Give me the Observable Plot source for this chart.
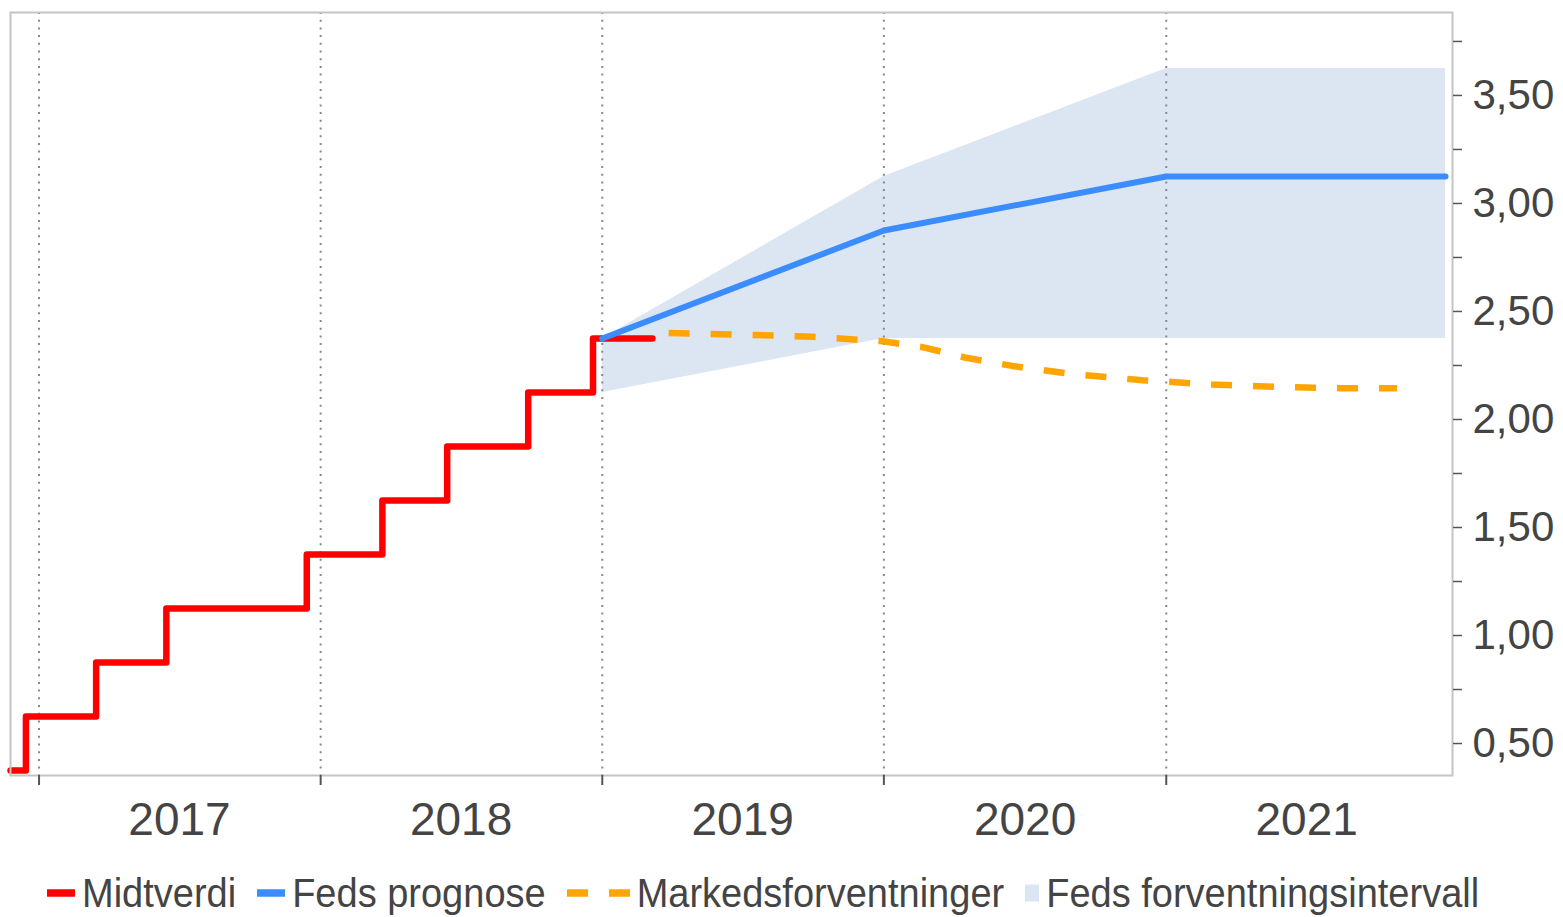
<!DOCTYPE html>
<html>
<head>
<meta charset="utf-8">
<script src="https://cdn.jsdelivr.net/npm/d3@7"></script>
<script src="https://cdn.jsdelivr.net/npm/@observablehq/plot@0.6"></script>
<style>
  body { margin: 0; background: #fff; font-family: "Liberation Sans", Arial, sans-serif; }
  #chart { position: relative; width: 1563px; height: 917px; }
  #legend { position: absolute; left: 47px; top: 871px; display: flex; align-items: center; font-size: 38px; line-height: 44px; color: #444; white-space: nowrap; transform: scaleY(1.06); }
  .item { display: flex; align-items: center; margin-right: 21px; }
  .item svg { margin-right: 7px; }
</style>
</head>
<body>
<div id="chart"></div>
<script>
// Midtverdi (styringsrente, midtpunkt)
const redDates = ["2016-11-25","2016-12-15","2017-03-16","2017-06-15","2017-12-14","2018-03-22","2018-06-14","2018-09-27","2018-12-20","2019-03-07"];
const redValues = [0.375,0.625,0.875,1.125,1.375,1.625,1.875,2.125,2.375,2.375];

// Feds prognose
const fedDates = ["2019-01-01","2020-01-01","2021-01-01","2021-12-29"];
const fedValues = [2.375,2.875,3.125,3.125];
// Feds forventningsintervall
const bandLow = [2.125,2.375,2.375,2.375];
const bandHigh = [2.375,3.125,3.625,3.625];

// Markedsforventninger
const mktDates = ["2019-03-28","2019-07-01","2019-10-01","2019-12-31","2020-02-20","2020-04-15","2020-06-15","2020-09-01","2020-12-01","2021-03-01","2021-06-01","2021-08-15","2021-10-27"];
const mktValues = [2.40,2.393,2.383,2.362,2.335,2.287,2.248,2.21,2.182,2.162,2.150,2.145,2.145];

const yearStarts = ["2017-01-01","2018-01-01","2019-01-01","2020-01-01","2021-01-01"];
const yearLabels = ["2017","2018","2019","2020","2021"];
const yTicks = [0.5,0.75,1,1.25,1.5,1.75,2,2.25,2.5,2.75,3,3.25,3.5,3.75];

const D = s => new Date(s + "T00:00:00Z");
const red = redDates.map((d,i) => ({date: D(d), v: redValues[i]}));
const fed = fedDates.map((d,i) => ({date: D(d), v: fedValues[i], lo: bandLow[i], hi: bandHigh[i]}));
const mkt = mktDates.map((d,i) => ({date: D(d), v: mktValues[i]}));
const starts = yearStarts.map(D);
const mids = yearLabels.map(y => D(y + "-07-02"));

const plot = Plot.plot({
  width: 1563,
  height: 860,
  marginLeft: 10,
  marginTop: 12,
  marginRight: 111,
  marginBottom: 85,
  style: {fontFamily: "'Liberation Sans', Arial, sans-serif", color: "#444", background: "#fff"},
  x: {type: "utc", domain: [D("2016-11-25"), D("2022-01-07")]},
  y: {domain: [0.352, 3.884]},
  marks: [
    Plot.areaY(fed, {x: "date", y1: "lo", y2: "hi", fill: "#dce6f2"}),
    Plot.ruleX(starts, {x: d => d, stroke: "#888", strokeWidth: 2, strokeDasharray: "2,5.7"}),
    Plot.line(red, {x: "date", y: "v", curve: "step-after", stroke: "#ff0000", strokeWidth: 6.5, strokeLinejoin: "round"}),
    Plot.line(fed, {x: "date", y: "v", stroke: "#3a8cff", strokeWidth: 6}),
    Plot.line(mkt, {x: "date", y: "v", stroke: "#ffa500", strokeWidth: 6.5, strokeDasharray: "21,21", strokeLinecap: "butt"}),
    Plot.frame({stroke: "#c4c4c4", strokeWidth: 2}),
    Plot.axisX({ticks: starts, tickSize: 10, tickFormat: () => "", stroke: "#555", strokeWidth: 2}),
    Plot.axisX({ticks: mids, tickSize: 0, tickPadding: 27, fontSize: 46, tickFormat: d => String(d.getUTCFullYear()), fill: "#444"}),
    Plot.axisY({anchor: "right", ticks: yTicks, tickSize: 9, tickPadding: 11, fontSize: 42, stroke: "#555", strokeWidth: 1.5, fill: "#444",
      tickFormat: d => Number.isInteger(d * 2) ? d.toFixed(2).replace(".", ",") : ""})
  ]
});
document.getElementById("chart").appendChild(plot);

const legend = document.createElement("div");
legend.id = "legend";
legend.innerHTML = `
  <div class="item"><svg width="28" height="20"><line x1="0" x2="28" y1="10" y2="10" stroke="#ff0000" stroke-width="7"/></svg>Midtverdi</div>
  <div class="item"><svg width="28" height="20"><line x1="0" x2="28" y1="10" y2="10" stroke="#3a8cff" stroke-width="7"/></svg>Feds prognose</div>
  <div class="item"><svg width="63" height="20"><line x1="0" x2="63" y1="10" y2="10" stroke="#ffa500" stroke-width="7" stroke-dasharray="21,21"/></svg>Markedsforventninger</div>
  <div class="item"><svg width="14" height="20"><rect x="0" y="2" width="14" height="16" fill="#dce6f2"/></svg>Feds forventningsintervall</div>`;
document.getElementById("chart").appendChild(legend);
</script>
</body>
</html>
